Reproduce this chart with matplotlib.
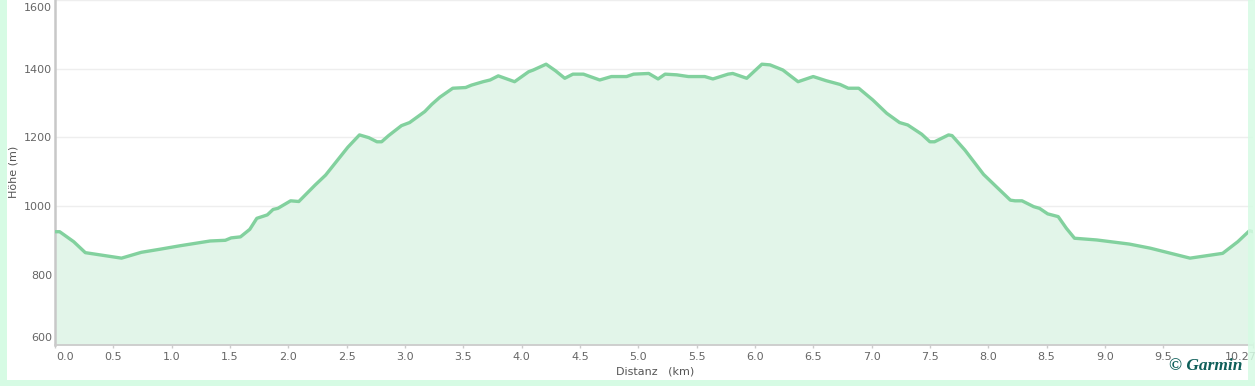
import matplotlib
matplotlib.use("Agg")
import matplotlib.pyplot as plt
import matplotlib.transforms as mtransforms
from matplotlib.patches import Rectangle

# ---- data ----
dist_km = [0.00, 0.04, 0.16, 0.26, 0.57, 0.74, 0.90, 1.07, 1.33, 1.46, 1.51, 1.59, 1.67, 1.73,
           1.82, 1.87, 1.91, 2.02, 2.09, 2.23, 2.32, 2.51, 2.61, 2.69, 2.76, 2.80, 2.86, 2.97,
           3.04, 3.17, 3.23, 3.30, 3.41, 3.52, 3.57, 3.67, 3.73, 3.80, 3.94, 4.06, 4.10, 4.21,
           4.29, 4.37, 4.44, 4.53, 4.67, 4.77, 4.90, 4.96, 5.09, 5.17, 5.23, 5.33, 5.43, 5.57,
           5.64, 5.77, 5.81, 5.93, 6.06, 6.13, 6.24, 6.37, 6.50, 6.61, 6.73, 6.80, 6.89, 7.01,
           7.13, 7.24, 7.31, 7.43, 7.50, 7.54, 7.66, 7.69, 7.80, 7.96, 8.07, 8.19, 8.23, 8.29,
           8.39, 8.44, 8.51, 8.60, 8.67, 8.74, 8.93, 9.21, 9.39, 9.73, 10.01, 10.14, 10.24, 10.27]
elev_m = [925, 925, 896, 864, 848, 865, 874, 884, 898, 900, 907, 910, 932, 964,
          974, 990, 993, 1015, 1013, 1061, 1090, 1171, 1207, 1199, 1187, 1187, 1205, 1234,
          1243, 1275, 1296, 1317, 1343, 1345, 1352, 1362, 1367, 1379, 1362, 1391, 1396, 1413,
          1394, 1372, 1384, 1384, 1367, 1377, 1377, 1384, 1386, 1370, 1384, 1382, 1377, 1377,
          1370, 1384, 1386, 1372, 1413, 1411, 1396, 1362, 1377, 1365, 1354, 1343, 1343, 1309,
          1270, 1243, 1236, 1209, 1187, 1187, 1207, 1205, 1163, 1092, 1056, 1017, 1015, 1015,
          998, 993, 977, 969, 935, 906, 901, 889, 877, 848, 862, 896, 928, 925]

x_ticks = [0.0, 0.5, 1.0, 1.5, 2.0, 2.5, 3.0, 3.5, 4.0, 4.5, 5.0, 5.5, 6.0, 6.5, 7.0, 7.5,
           8.0, 8.5, 9.0, 9.5, 10.27]
x_tick_labels = ["0.0", "0.5", "1.0", "1.5", "2.0", "2.5", "3.0", "3.5", "4.0", "4.5", "5.0",
                 "5.5", "6.0", "6.5", "7.0", "7.5", "8.0", "8.5", "9.0", "9.5", "10.27"]
y_ticks = [600, 800, 1000, 1200, 1400, 1600]
y_tick_labels = ["600", "800", "1000", "1200", "1400", "1600"]

W, H = 1255, 386
fig = plt.figure(figsize=(W / 100, H / 100), dpi=100, facecolor="white")

MINT = "#d6fbe4"
LINE = "#82d19e"
FILL = "#e2f5e9"
TXT = "#666666"

ax = fig.add_axes([55 / W, 41 / H, (1253 - 55) / W, 345 / H])
ax.set_facecolor("white")
ax.fill_between(dist_km, elev_m, 595, color=FILL, lw=0, zorder=1)
ax.plot(dist_km, elev_m, color=LINE, lw=2.4, solid_joinstyle="round", zorder=3)

ax.set_xlim(0, 10.27)
ax.set_ylim(595, 1600)
ax.set_xticks(x_ticks)
ax.set_xticklabels(x_tick_labels)
ax.set_yticks(y_ticks)
ax.set_yticklabels(y_tick_labels)

ax.grid(axis="y", color="#eeeeee", lw=1, zorder=0)
ax.set_axisbelow(True)
for s in ["top", "right"]:
    ax.spines[s].set_visible(False)
ax.spines["left"].set_color("#c8c8c8")
ax.spines["left"].set_linewidth(1.8)
ax.spines["bottom"].set_color("#cccccc")
ax.spines["bottom"].set_linewidth(1.3)

ax.tick_params(axis="x", direction="inout", length=4, width=1, color="#cccccc",
               labelsize=8, labelcolor=TXT, pad=3)
ax.tick_params(axis="y", length=0, labelsize=8, labelcolor=TXT, pad=2)


def shift(lab, dx_px, dy_px):
    lab.set_transform(lab.get_transform() +
                      mtransforms.ScaledTranslation(dx_px / 100, dy_px / 100, fig.dpi_scale_trans))


# shift the extreme labels inside the plot like the original
for lab in ax.get_yticklabels():
    t = lab.get_text()
    if t == "1600":
        shift(lab, 0, -7)
    elif t == "600":
        shift(lab, 0, 6)
for lab in ax.get_xticklabels():
    t = lab.get_text()
    if t == "0.0":
        shift(lab, 10, 0)
    elif t == "10.27":
        shift(lab, -12, 0)

fig.text(655 / W, 1 - 371 / H, "Distanz   (km)", ha="center", va="center", fontsize=8, color="#555555")
fig.text(14 / W, 1 - 172 / H, "Höhe (m)", ha="center", va="center", rotation=90, fontsize=8, color="#555555")

# mint frame
fig.add_artist(Rectangle((0, 0), 7 / W, 1, transform=fig.transFigure, color=MINT, lw=0, zorder=10))
fig.add_artist(Rectangle((0, 0), 1, 6 / H, transform=fig.transFigure, color=MINT, lw=0, zorder=10))
fig.add_artist(Rectangle((1248 / W, 0), 7 / W, 1, transform=fig.transFigure, color=MINT, lw=0,
                         alpha=0.85, zorder=10))

fig.text(1242 / W, 1 - 366 / H, "© Garmin", ha="right", va="center", fontsize=12.5,
         family="Liberation Serif", fontweight="bold", fontstyle="italic", color="#0f5f5a", zorder=11)

fig.savefig("out.png", dpi=100, facecolor="white")
